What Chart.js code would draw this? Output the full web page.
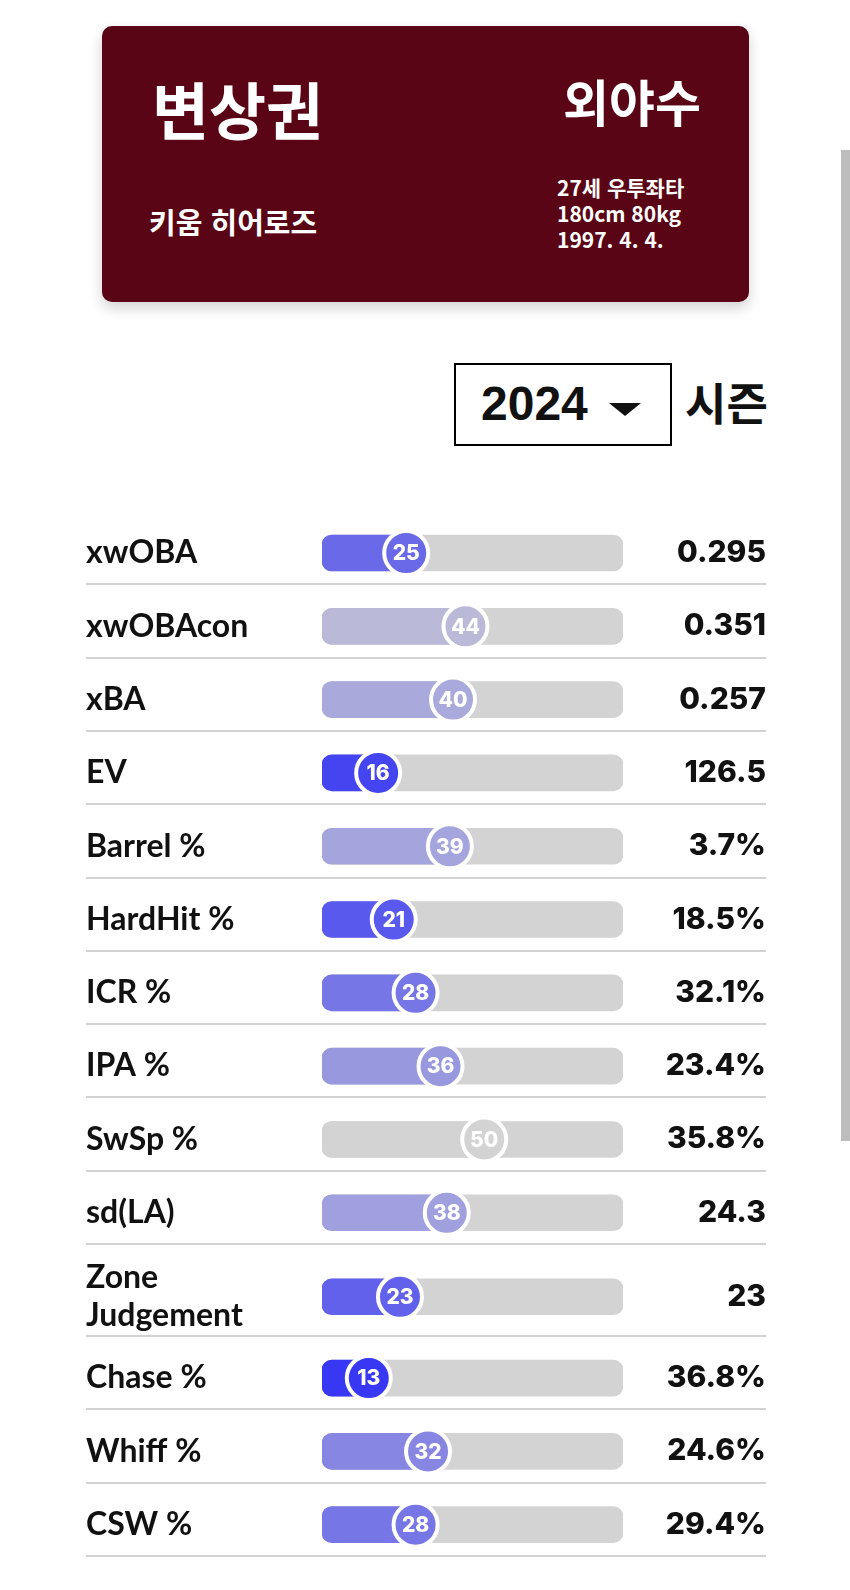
<!DOCTYPE html>
<html lang="ko">
<head>
<meta charset="utf-8">
<title>변상권 - 2024 시즌</title>
<script src="https://cdn.jsdelivr.net/npm/chart.js@4.4.1/dist/chart.umd.min.js"></script>
<style>
  html, body { margin: 0; padding: 0; background: #fff; }
  body { width: 850px; height: 1590px; position: relative; overflow: hidden; font-family: "Noto Sans CJK KR", sans-serif; }
  .card { position: absolute; left: 102px; top: 26px; width: 647px; height: 276px; background: #5a0515; border-radius: 10px; box-shadow: 0 6px 14px rgba(0,0,0,0.18); color: #fff; }
  .card div { position: absolute; font-weight: 700; white-space: nowrap; }
  .name { left: 50px; top: 51px; font-size: 62px; line-height: 1; }
  .pos { right: 48px; top: 49px; font-size: 50px; line-height: 1; }
  .team { left: 47px; top: 181px; font-size: 29px; line-height: 1; }
  .info { left: 455px; top: 148px; font-size: 21px; line-height: 26px; }
  .season { position: absolute; left: 454px; top: 363px; width: 214px; height: 79px; border: 2px solid #000; }
  .season .year { position: absolute; left: 25px; top: 15px; font-family: "Liberation Sans", Arial, sans-serif; font-weight: 700; font-size: 48px; line-height: 1; color: #111; }
  .season .arrow { position: absolute; left: 153px; top: 38px; width: 0; height: 0; border-left: 16px solid transparent; border-right: 16px solid transparent; border-top: 13px solid #111; }
  .season-label { position: absolute; left: 685px; top: 379px; font-size: 45px; font-weight: 700; line-height: 1; color: #111; }
  .scrollbar { position: absolute; left: 841px; top: 150px; width: 9px; height: 991px; background: #bdbdbd; }
  .chart-box { position: absolute; left: 86px; top: 505px; width: 680px; height: 1056px; }
</style>
</head>
<body>
  <div class="card">
    <div class="name">변상권</div>
    <div class="pos">외야수</div>
    <div class="team">키움 히어로즈</div>
    <div class="info">27세 우투좌타<br>180cm 80kg<br>1997. 4. 4.</div>
  </div>

  <div class="season">
    <span class="year">2024</span>
    <span class="arrow"></span>
  </div>
  <div class="season-label">시즌</div>

  <div class="chart-box"><canvas id="pct"></canvas></div>
  <div class="scrollbar"></div>

<script>
const metricLabels = [
  "xwOBA", "xwOBAcon", "xBA", "EV", "Barrel %", "HardHit %", "ICR %",
  "IPA %", "SwSp %", "sd(LA)", ["Zone", "Judgement"], "Chase %", "Whiff %", "CSW %"
];
const percentiles = [25, 44, 40, 16, 39, 21, 28, 36, 50, 38, 23, 13, 32, 28];
const statValues = [
  "0.295", "0.351", "0.257", "126.5", "3.7%", "18.5%", "32.1%",
  "23.4%", "35.8%", "24.3", "23", "36.8%", "24.6%", "29.4%"
];

// layout of the rows (px units on the y scale)
const ROW_H = 73.3;
const EXTRA_LINE_H = 18.7;
const X_MIN = -2;
const X_MAX = 94.5;

const rowHeights = metricLabels.map(l => ROW_H + (Array.isArray(l) ? (l.length - 1) * EXTRA_LINE_H : 0));
const rowTops = [];
let acc = 0;
rowHeights.forEach(h => { rowTops.push(acc); acc += h; });
const totalH = acc;
const rowPos = rowTops.map((t, i) => t + rowHeights[i] * 0.573);

// blue (low) -> grey (50) -> red (high)
function pctColor(v) {
  const grey = [211, 211, 211];
  const end = v <= 50 ? [0, 0, 255] : [255, 0, 0];
  const t = Math.min(Math.abs(v - 50) / 50, 1);
  const c = grey.map((g, k) => Math.round(g + (end[k] - g) * t));
  return `rgb(${c.join(",")})`;
}
const colors = percentiles.map(pctColor);

const rowLines = {
  id: "rowLines",
  beforeDatasetsDraw(chart) {
    const { ctx, scales: { y } } = chart;
    ctx.save();
    ctx.strokeStyle = "#d2d2d2";
    ctx.lineWidth = 2;
    rowTops.forEach((t, i) => {
      const py = Math.round(y.getPixelForValue(t + rowHeights[i]));
      ctx.beginPath();
      ctx.moveTo(0, py);
      ctx.lineTo(chart.width, py);
      ctx.stroke();
    });
    ctx.restore();
  }
};

const dotLabels = {
  id: "dotLabels",
  afterDatasetsDraw(chart) {
    const { ctx } = chart;
    const meta = chart.getDatasetMeta(2);
    ctx.save();
    ctx.fillStyle = "#fff";
    ctx.font = "800 21px Inter, sans-serif";
    ctx.textAlign = "center";
    ctx.textBaseline = "middle";
    meta.data.forEach((pt, i) => {
      ctx.fillText(String(percentiles[i]), pt.x, pt.y + 1);
    });
    ctx.restore();
  }
};

function rowTicks(axis) {
  axis.ticks = rowPos.map(v => ({ value: v }));
}
function fitWidth(w) {
  return axis => {
    axis.width = w;
    axis.paddingTop = 0;
    axis.paddingBottom = 0;
  };
}

new Chart(document.getElementById("pct"), {
  type: "bar",
  data: {
    datasets: [
      {
        indexAxis: "y",
        data: rowPos.map(y => ({ x: [X_MIN, X_MAX], y })),
        backgroundColor: "#d3d3d3",
        barThickness: 36,
        borderRadius: 10,
        borderSkipped: false,
        grouped: false,
        order: 3,
      },
      {
        indexAxis: "y",
        data: percentiles.map((v, i) => ({ x: [X_MIN, v], y: rowPos[i] })),
        backgroundColor: colors,
        barThickness: 36,
        borderRadius: 10,
        borderSkipped: false,
        grouped: false,
        order: 2,
      },
      {
        type: "scatter",
        data: percentiles.map((v, i) => ({ x: v, y: rowPos[i] })),
        pointRadius: 22,
        pointBorderWidth: 4,
        pointBorderColor: "#fff",
        pointBackgroundColor: colors,
        order: 1,
      },
    ],
  },
  options: {
    responsive: true,
    maintainAspectRatio: false,
    animation: false,
    layout: { autoPadding: false, padding: { top: 6, bottom: 5, left: 0, right: 0 } },
    plugins: {
      legend: { display: false },
      tooltip: { enabled: false },
    },
    scales: {
      x: {
        type: "linear",
        min: X_MIN,
        max: X_MAX,
        offset: false,
        display: false,
      },
      y: {
        type: "linear",
        position: "left",
        reverse: true,
        offset: false,
        min: 0,
        max: totalH,
        grid: { display: false },
        border: { display: false },
        afterBuildTicks: rowTicks,
        afterFit: fitWidth(236),
        ticks: {
          autoSkip: false,
          crossAlign: "far",
          padding: 0,
          color: "#111",
          font: { family: "Lato", weight: "bold", size: 32, lineHeight: 1.2 },
          callback: (v, i) => metricLabels[i],
        },
      },
      y2: {
        type: "linear",
        position: "right",
        reverse: true,
        offset: false,
        min: 0,
        max: totalH,
        grid: { display: false },
        border: { display: false },
        afterBuildTicks: rowTicks,
        afterFit: fitWidth(143),
        ticks: {
          autoSkip: false,
          crossAlign: "far",
          padding: 0,
          color: "#111",
          font: { family: "Inter", weight: "800", size: 30 },
          callback: (v, i) => statValues[i],
        },
      },
    },
  },
  plugins: [rowLines, dotLabels],
});
</script>
</body>
</html>
